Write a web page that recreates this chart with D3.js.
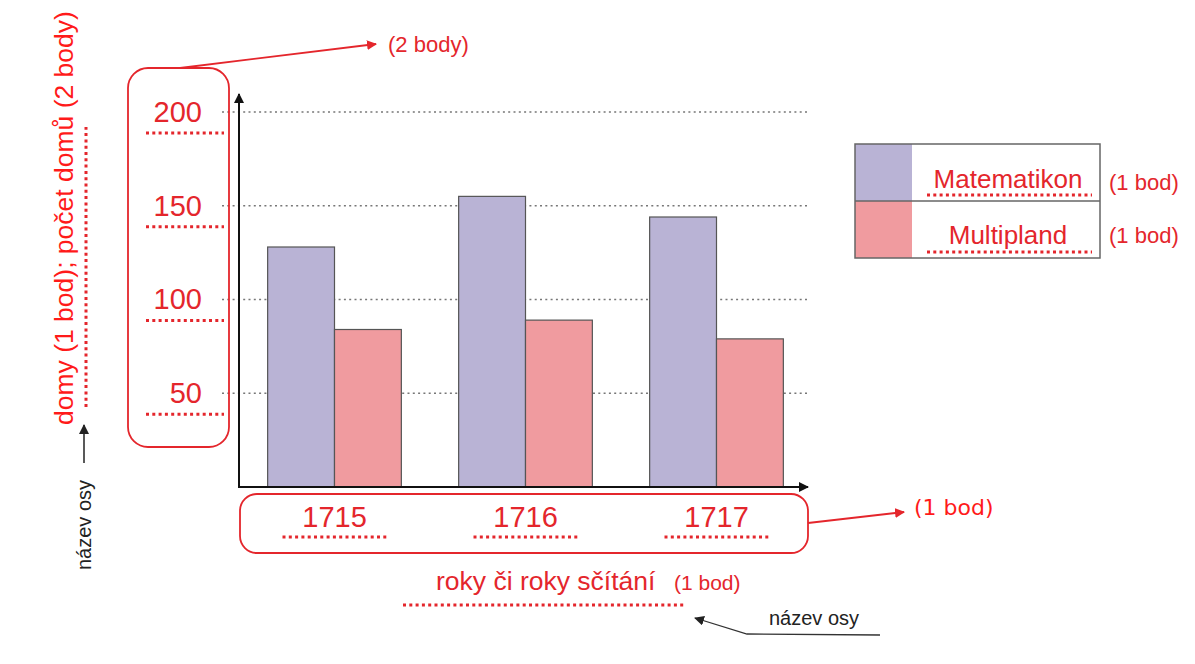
<!DOCTYPE html>
<html>
<head>
<meta charset="utf-8">
<title>domy</title>
<script src="https://cdn.jsdelivr.net/npm/d3@7"></script>
<style>
  body { margin: 0; background: #fff; }
  svg { font-family: "Liberation Sans", Arial, sans-serif; }
</style>
</head>
<body>
<div id="chart"></div>
<script>
// data
const years = ["1715", "1716", "1717"];
const series = ["Matematikon", "Multipland"];
const matematikon = [128, 155, 144];
const multipland = [84, 89, 79];
const yTicks = [50, 100, 150, 200];
const colors = ["#b9b3d5", "#f09b9f"];

const RED = "#e4262c";
const W = 1195, H = 664;

const svg = d3.select("#chart").append("svg")
    .attr("width", W).attr("height", H);

const defs = svg.append("defs");
function marker(id, color) {
  defs.append("marker")
      .attr("id", id)
      .attr("viewBox", "0 0 10 10")
      .attr("refX", 9).attr("refY", 5)
      .attr("markerWidth", 10).attr("markerHeight", 10)
      .attr("markerUnits", "userSpaceOnUse")
      .attr("orient", "auto")
    .append("path")
      .attr("d", "M0,0 L10,5 L0,10 z")
      .attr("fill", color);
}
marker("arrBlack", "#111");
marker("arrRed", RED);
marker("arrGray", "#222");

const x0 = d3.scaleBand().domain(years).range([239, 812]).paddingInner(0.3).paddingOuter(0.15);
const x1 = d3.scaleBand().domain(series).range([0, x0.bandwidth()]);
const y = d3.scaleLinear().domain([0, 200]).range([487, 112]);

const rows = years.map((yr, i) => ({ year: yr, values: [matematikon[i], multipland[i]] }));

// gridlines
svg.append("g").selectAll("line").data(yTicks).join("line")
    .attr("x1", 222).attr("x2", 809)
    .attr("y1", d => y(d)).attr("y2", d => y(d))
    .attr("stroke", "#777").attr("stroke-width", 1.6)
    .attr("stroke-dasharray", "2,3.3");

// bars
svg.append("g").selectAll("g").data(rows).join("g")
    .attr("transform", d => `translate(${x0(d.year)},0)`)
  .selectAll("rect").data(d => d.values.map((v, k) => ({ key: series[k], v, k })))
  .join("rect")
    .attr("x", d => x1(d.key))
    .attr("width", x1.bandwidth())
    .attr("y", d => y(d.v))
    .attr("height", d => y(0) - y(d.v))
    .attr("fill", d => colors[d.k])
    .attr("stroke", "#555").attr("stroke-width", 1.2);

// axes lines with arrows
svg.append("line").attr("x1", 239).attr("y1", y(0)).attr("x2", 239).attr("y2", 94)
    .attr("stroke", "#111").attr("stroke-width", 2).attr("marker-end", "url(#arrBlack)");
svg.append("line").attr("x1", 238).attr("y1", y(0)).attr("x2", 808).attr("y2", y(0))
    .attr("stroke", "#111").attr("stroke-width", 2).attr("marker-end", "url(#arrBlack)");

// y tick labels
const yAxis = svg.append("g").attr("transform", "translate(239,0)")
    .call(d3.axisLeft(y).tickValues(yTicks).tickSize(0).tickPadding(37));
yAxis.select(".domain").remove();
yAxis.selectAll("text").attr("fill", RED).attr("font-size", 29)
    .attr("font-family", "Liberation Sans, Arial, sans-serif");

function dotted(g, x1p, y1p, x2p, y2p) {
  g.append("line").attr("x1", x1p).attr("y1", y1p).attr("x2", x2p).attr("y2", y2p)
    .attr("stroke", RED).attr("stroke-width", 3).attr("stroke-dasharray", "3,3.3");
}
const ul = svg.append("g");
yTicks.forEach(t => dotted(ul, 146, y(t) + 21, 224, y(t) + 21));

// x tick labels
const xAxis = svg.append("g").attr("transform", `translate(0,${y(0)})`)
    .call(d3.axisBottom(x0).tickSize(0).tickPadding(19));
xAxis.select(".domain").remove();
xAxis.selectAll("text").attr("fill", RED).attr("font-size", 29)
    .attr("font-family", "Liberation Sans, Arial, sans-serif");
years.forEach(yr => {
  const c = x0(yr) + x0.bandwidth() / 2;
  dotted(ul, c - 52, 537, c + 52, 537);
});

// rounded boxes
svg.append("rect").attr("x", 128).attr("y", 68).attr("width", 101).attr("height", 379)
    .attr("rx", 20).attr("fill", "none").attr("stroke", RED).attr("stroke-width", 1.8);
svg.append("rect").attr("x", 240).attr("y", 494).attr("width", 568).attr("height", 59)
    .attr("rx", 17).attr("fill", "none").attr("stroke", RED).attr("stroke-width", 1.8);

// red pointer arrows
svg.append("line").attr("x1", 180).attr("y1", 68).attr("x2", 376).attr("y2", 44)
    .attr("stroke", RED).attr("stroke-width", 1.8).attr("marker-end", "url(#arrRed)");
svg.append("text").attr("x", 388).attr("y", 52).attr("fill", RED)
    .attr("font-size", 22).text("(2 body)");
svg.append("line").attr("x1", 808).attr("y1", 523).attr("x2", 904).attr("y2", 512)
    .attr("stroke", RED).attr("stroke-width", 1.8).attr("marker-end", "url(#arrRed)");
svg.append("text").attr("x", 914).attr("y", 515).attr("fill", "#ff1a1a")
    .attr("font-family", "DejaVu Sans, sans-serif").attr("font-size", 22).text("(1 bod)");

// y axis title
svg.append("text").attr("transform", "translate(73,425) rotate(-90)")
    .attr("fill", "#ff1a1a").attr("font-size", 26.5)
    .text("domy (1 bod); počet domů (2 body)");
dotted(ul, 86, 407, 86, 127);

// "název osy" vertical with arrow
svg.append("line").attr("x1", 84).attr("y1", 463).attr("x2", 84).attr("y2", 425)
    .attr("stroke", "#222").attr("stroke-width", 1.5).attr("marker-end", "url(#arrGray)");
svg.append("text").attr("transform", "translate(91,570) rotate(-90)")
    .attr("fill", "#222").attr("font-size", 20).text("název osy");

// x axis title
svg.append("text").attr("x", 436).attr("y", 590).attr("fill", RED)
    .attr("font-size", 26.5).text("roky či roky sčítání");
svg.append("text").attr("x", 674).attr("y", 590).attr("fill", RED)
    .attr("font-size", 21).text("(1 bod)");
dotted(ul, 403, 605, 684, 605);

// "název osy" bottom with arrow
svg.append("path").attr("d", "M880,635 L747,634 L695,618")
    .attr("fill", "none").attr("stroke", "#333").attr("stroke-width", 1.3)
    .attr("marker-end", "url(#arrGray)");
svg.append("text").attr("x", 769).attr("y", 625).attr("fill", "#222")
    .attr("font-size", 20).text("název osy");

// legend
const lg = svg.append("g");
const rowH = 57;
series.forEach((s, i) => {
  const top = 144 + i * rowH;
  lg.append("rect").attr("x", 855).attr("y", top).attr("width", 57).attr("height", rowH)
      .attr("fill", colors[i]);
  lg.append("text").attr("x", 1008).attr("y", top + 44 - i * 1).attr("text-anchor", "middle")
      .attr("fill", RED).attr("font-size", 26).text(s);
  dotted(lg, 927, top + 51, 1092, top + 51);
  lg.append("text").attr("x", 1109).attr("y", top + 46 - i * 4).attr("fill", RED)
      .attr("font-size", 22).text("(1 bod)");
});
lg.append("rect").attr("x", 855).attr("y", 144).attr("width", 245).attr("height", rowH * 2)
    .attr("fill", "none").attr("stroke", "#666").attr("stroke-width", 1.5);
lg.append("line").attr("x1", 855).attr("x2", 1100).attr("y1", 144 + rowH).attr("y2", 144 + rowH)
    .attr("stroke", "#666").attr("stroke-width", 1.5);
</script>
</body>
</html>
